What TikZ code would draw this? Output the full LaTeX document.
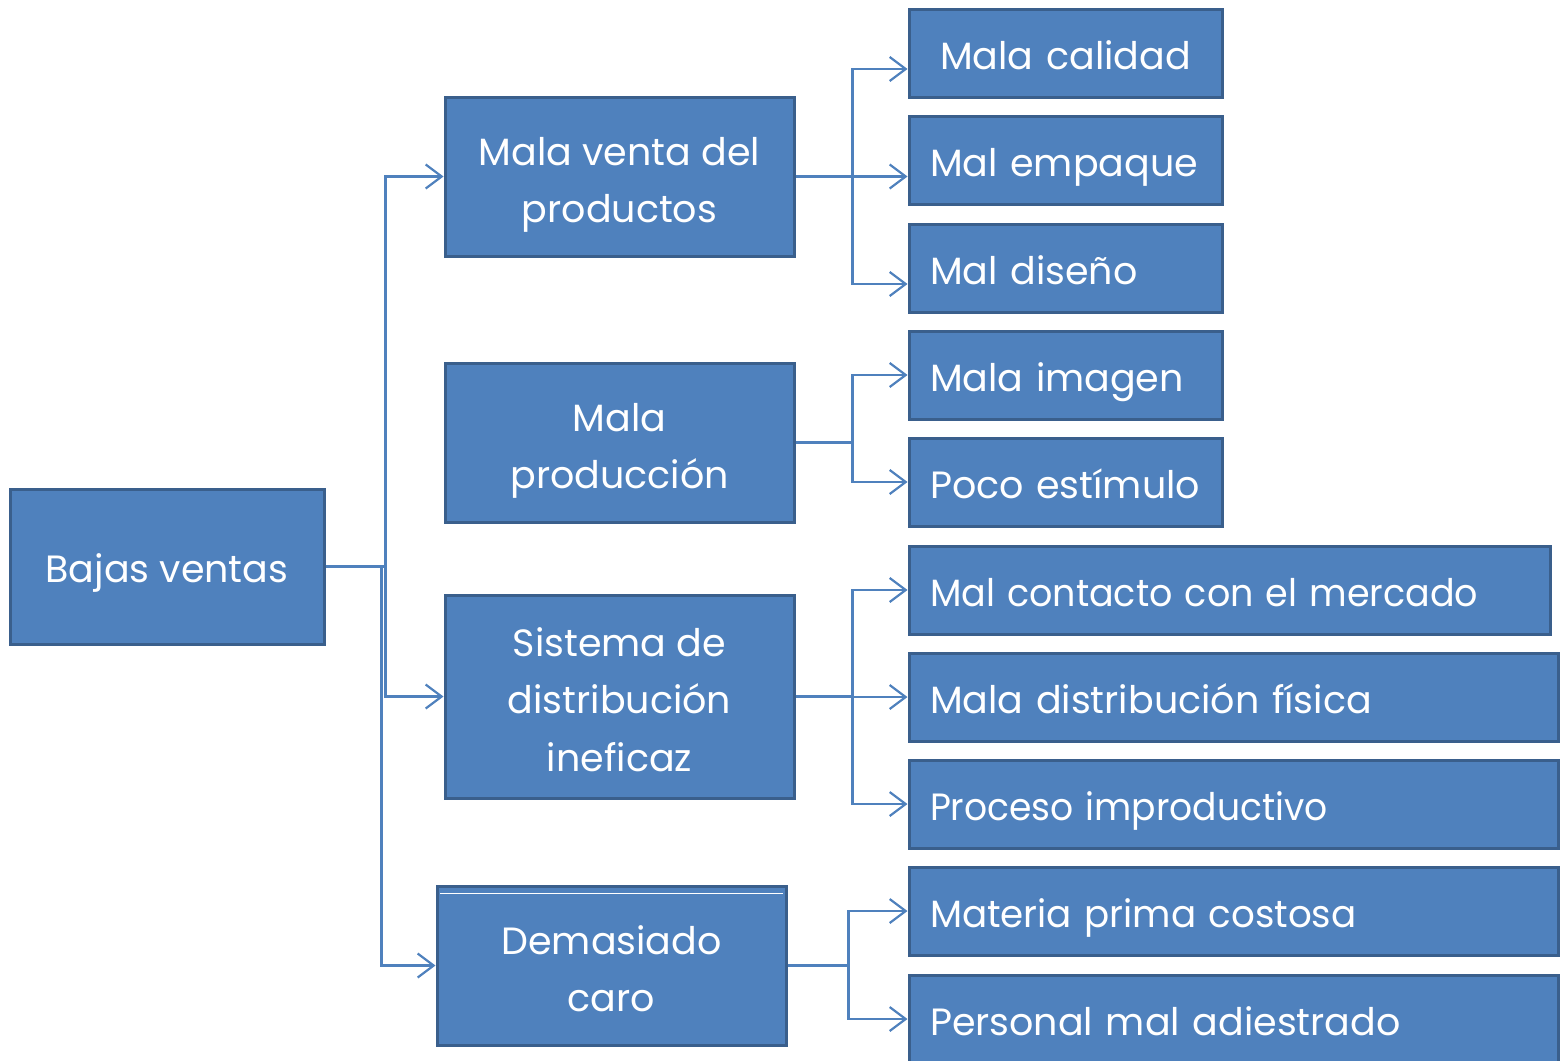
\documentclass[tikz,border=0pt]{standalone}
\usepackage{fontspec}
\setmainfont{Poppins}
\usetikzlibrary{arrows.meta}
\definecolor{boxfill}{HTML}{4F81BD}
\definecolor{boxdraw}{HTML}{3A5F8C}
\definecolor{linecol}{HTML}{4F81BD}
\tikzset{
  box/.style={draw=boxdraw, line width=3pt, fill=boxfill, text=white, inner sep=0pt,
    font=\fontsize{38}{57.5}\selectfont, align=center},
  oneline/.style={text height=40pt, text depth=8pt},
  twoline/.style={text height=97.5pt, text depth=5.5pt},
  threeline/.style={text height=155pt, text depth=6pt},
  lbox/.style={box, twoline, minimum width=349pt, minimum height=159pt},
  rbox/.style={box, oneline, minimum height=88pt, inner xsep=21pt, align=left},
  conn/.style={draw=linecol, line width=2.2pt},
  arr/.style={conn, -{Straight Barb[length=16pt,width=24pt,line width=2.2pt]}}
}
\begin{document}
\begin{tikzpicture}[x=1pt,y=-1pt]
\useasboundingbox (0,0) rectangle (1560,1060);
% left
\node[box, oneline, minimum width=314pt, minimum height=155pt] (bv) at (167,566.5) {Bajas ventas};
\node[lbox] (mv) at (619.5,176.5) {Mala venta del\\productos};
\node[lbox] (mp) at (619.5,442.5) {Mala\\producción};
\node[lbox, threeline, minimum height=203pt] (sd) at (619.5,696.5) {Sistema de\\distribución\\ineficaz};
\node[lbox] (dc) at (611.5,965.5) {Demasiado\\caro};
\draw[white, line width=1pt] (440,893) -- (783,893);
% right
\node[rbox, minimum width=313pt, text width=271pt, align=center] (mc) at (1065.5,53) {Mala calidad};
\node[rbox, minimum width=313pt, text width=271pt] (me) at (1065.5,160.5) {Mal empaque};
\node[rbox, minimum width=313pt, text width=271pt] (md) at (1065.5,268) {Mal diseño};
\node[rbox, minimum width=313pt, text width=271pt] (mi) at (1065.5,375) {Mala imagen};
\node[rbox, minimum width=313pt, text width=271pt] (pe) at (1065.5,482) {Poco estímulo};
\node[rbox, minimum width=641pt, text width=599pt] (mcm) at (1229.5,590) {\scalebox{0.96}[1]{Mal contacto con el mercado}};
\node[rbox, minimum width=649pt, text width=607pt] (mdf) at (1233.5,697) {Mala distribución física};
\node[rbox, minimum width=649pt, text width=607pt] (pi) at (1233.5,804) {\scalebox{0.95}[1]{Proceso improductivo}};
\node[rbox, minimum width=649pt, text width=607pt] (mpc) at (1233.5,911) {\scalebox{0.98}[1]{Materia prima costosa}};
\node[rbox, minimum width=649pt, text width=607pt] (pm) at (1233.5,1019) {Personal mal adiestrado};
% level 1 connectors
\draw[conn] (bv.east) -- ++(60,0) coordinate (j1);
\draw[arr] (j1) |- (mv.west);
\draw[arr] (j1) |- (sd.west);
\draw[arr] (bv.east) -- ++(56,0) |- (dc.west);
% level 2
\draw[conn] (mv.east) -- ++(57,0) coordinate (j2);
\draw[arr] (j2) |- ([yshift=-16pt]mc.west);
\draw[arr] (j2) |- ([yshift=-16pt]me.west);
\draw[arr] (j2) |- ([yshift=-16pt]md.west);
\draw[conn] (mp.east) -- ++(57,0) coordinate (j3);
\draw[arr] (j3) |- (mi.west);
\draw[arr] (j3) |- (pe.west);
\draw[conn] (sd.east) -- ++(57,0) coordinate (j4);
\draw[arr] (j4) |- (mcm.west);
\draw[arr] (j4) |- (mdf.west);
\draw[arr] (j4) |- (pi.west);
\draw[conn] (dc.east) -- ++(61,0) coordinate (j5);
\draw[arr] (j5) |- (mpc.west);
\draw[arr] (j5) |- (pm.west);
\end{tikzpicture}
\end{document}
